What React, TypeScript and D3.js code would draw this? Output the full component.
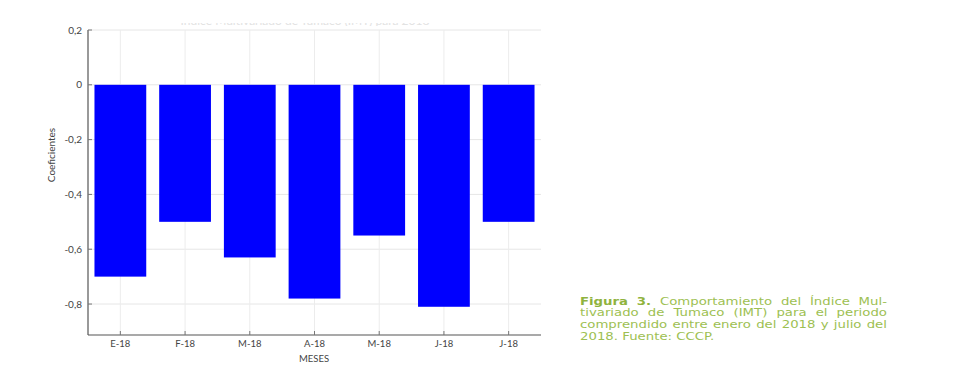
import React, { useEffect, useRef } from "react";
import * as d3 from "d3";

const categories = ["E-18", "F-18", "M-18", "A-18", "M-18 ", "J-18", "J-18 "];
const categoryLabels = ["E-18", "F-18", "M-18", "A-18", "M-18", "J-18", "J-18"];
const values = [-0.70, -0.50, -0.63, -0.78, -0.55, -0.81, -0.50];
const yTicks = [0.2, 0, -0.2, -0.4, -0.6, -0.8];
const yTitle = "Coeficientes";
const xTitle = "MESES";
const captionBold = "Figura 3.";
const captionLines = [
  "Comportamiento del Índice Mul-",
  "tivariado de Tumaco (IMT) para el periodo",
  "comprendido entre enero del 2018 y julio del",
  "2018. Fuente: CCCP.",
];

const W = 955;
const H = 385;
const left = 88, right = 541, top = 30, bottom = 335;

export default function App() {
  const ref = useRef<SVGSVGElement>(null);
  useEffect(() => {
    const svg = d3.select(ref.current);
    svg.selectAll("*").remove();
    const y = d3.scaleLinear().domain([-0.913, 0.2]).range([bottom, top]);
    const x = d3.scaleBand<string>().domain(categories).range([left, right]).padding(0);
    const font = "Lato, 'DejaVu Sans', sans-serif";

    // faint clipped title (only its lower edge shows, as in the reference)
    const defs = svg.append("defs");
    defs.append("clipPath").attr("id", "tclip").append("rect").attr("x", 0).attr("y", 23).attr("width", W).attr("height", 3);
    svg.append("text").attr("clip-path", "url(#tclip)").attr("x", 305).attr("y", 25)
      .attr("text-anchor", "middle").attr("font-family", font).attr("font-size", 12).attr("fill", "#e2e2e2")
      .text("Índice Multivariado de Tumaco (IMT) para 2018");

    const g = svg.append("g");
    // grid
    g.selectAll("line.hg").data(yTicks).join("line").attr("class", "hg")
      .attr("x1", left).attr("x2", right).attr("y1", d => y(d)).attr("y2", d => y(d))
      .attr("stroke", "#e6e6e6").attr("stroke-width", 1);
    g.selectAll("line.vg").data(categories).join("line").attr("class", "vg")
      .attr("x1", d => x(d)! + x.bandwidth() / 2).attr("x2", d => x(d)! + x.bandwidth() / 2)
      .attr("y1", top).attr("y2", bottom).attr("stroke", "#ececec").attr("stroke-width", 1);

    // bars
    const bw = x.bandwidth() * 0.8;
    g.selectAll("rect.bar").data(values).join("rect").attr("class", "bar")
      .attr("x", (_, i) => x(categories[i])! + (x.bandwidth() - bw) / 2)
      .attr("width", bw)
      .attr("y", d => y(Math.max(0, d)))
      .attr("height", d => Math.abs(y(d) - y(0)))
      .attr("fill", "#0000ff");

    // axes lines
    g.append("line").attr("x1", left).attr("x2", left).attr("y1", top).attr("y2", bottom).attr("stroke", "#555").attr("stroke-width", 1.2);
    g.append("line").attr("x1", left).attr("x2", right).attr("y1", bottom).attr("y2", bottom).attr("stroke", "#555").attr("stroke-width", 1.2);

    // y ticks
    g.selectAll("line.yt").data(yTicks).join("line").attr("class", "yt")
      .attr("x1", left).attr("x2", left + 4).attr("y1", d => y(d)).attr("y2", d => y(d)).attr("stroke", "#777");
    g.selectAll("text.yl").data(yTicks).join("text").attr("class", "yl")
      .attr("x", 82).attr("y", d => y(d) + 3.5).attr("text-anchor", "end")
      .attr("font-family", font).attr("font-size", 10).attr("fill", "#444")
      .text(d => (d === 0 ? "0" : d3.format(".1f")(d).replace(".", ",").replace("−", "-")));

    // x ticks
    g.selectAll("line.xt").data(categories).join("line").attr("class", "xt")
      .attr("x1", d => x(d)! + x.bandwidth() / 2).attr("x2", d => x(d)! + x.bandwidth() / 2)
      .attr("y1", bottom).attr("y2", bottom - 4).attr("stroke", "#777");
    g.selectAll("text.xl").data(categories).join("text").attr("class", "xl")
      .attr("x", d => x(d)! + x.bandwidth() / 2).attr("y", bottom + 11.5).attr("text-anchor", "middle")
      .attr("font-family", font).attr("font-size", 9.5).attr("fill", "#444")
      .text((_, i) => categoryLabels[i]);

    svg.append("text").attr("x", 314).attr("y", bottom + 26.5).attr("text-anchor", "middle")
      .attr("font-family", font).attr("font-size", 9.5).attr("fill", "#444").text(xTitle);
    svg.append("text").attr("transform", `translate(55,155) rotate(-90)`)
      .attr("text-anchor", "middle").attr("font-family", font).attr("font-size", 10).attr("fill", "#444").text(yTitle);

    // caption, justified, horizontally stretched to match the wide typeface
    const cx0 = 580, cx1 = 887;
    const cfont = "'DejaVu Sans', sans-serif";
    const fs = 10.8;
    const base = [304.5, 316.2, 327.9, 339.6];
    const green = "#9dbf52";
    const measure = svg.append("text").attr("font-family", cfont).attr("font-size", fs);
    const wWidth = (s: string, bold: boolean) => {
      measure.attr("font-weight", bold ? "bold" : "normal").text(s);
      return (measure.node() as SVGTextElement).getComputedTextLength();
    };
    const spaceW = wWidth("a a", false) - wWidth("aa", false);
    const l3 = captionLines[2].split(" ");
    const natural3 = d3.sum(l3, w => wWidth(w, false)) + spaceW * (l3.length - 1);
    const sx = 300 / natural3;
    captionLines.forEach((line, li) => {
      const words: { t: string; b: boolean }[] = [];
      if (li === 0) captionBold.split(" ").forEach(t => words.push({ t, b: true }));
      line.split(" ").forEach(t => words.push({ t, b: false }));
      const widths = words.map(w => wWidth(w.t, w.b) * sx);
      const total = d3.sum(widths);
      const justify = li < captionLines.length - 1;
      const gap = justify ? (cx1 - cx0 - total) / (words.length - 1) : spaceW * sx;
      let xx = cx0;
      words.forEach((w, i) => {
        svg.append("text").attr("transform", `translate(${xx},${base[li]}) scale(${sx},1)`)
          .attr("font-family", cfont)
          .attr("font-size", fs).attr("font-weight", w.b ? "bold" : "normal")
          .attr("fill", w.b ? "#8fb33e" : green).text(w.t);
        xx += widths[i] + gap;
      });
    });
    measure.remove();
  }, []);
  return (
    <svg ref={ref} width={W} height={H} style={{ position: "absolute", left: 0, top: 0, background: "#fff" }} />
  );
}
